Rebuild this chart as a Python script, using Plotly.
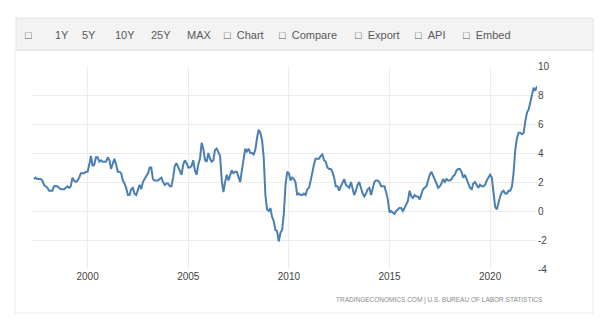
import plotly.graph_objects as go
import pandas as pd

# US inflation rate (CPI YoY, %) monthly, starting May 1997
start_month = "1997-05-01"
values_1997 = [2.2, 2.3, 2.2, 2.2, 2.2, 2.1, 1.8, 1.7]
values_1998 = [1.6, 1.4, 1.4, 1.4, 1.7, 1.7, 1.7, 1.6, 1.5, 1.5, 1.5, 1.6]
values_1999 = [1.7, 1.6, 1.7, 2.3, 2.1, 2.0, 2.1, 2.3, 2.6, 2.6, 2.6, 2.7]
values_2000 = [2.7, 3.2, 3.8, 3.1, 3.2, 3.7, 3.7, 3.4, 3.5, 3.4, 3.4, 3.4]
values_2001 = [3.7, 3.5, 2.9, 3.3, 3.6, 3.2, 2.7, 2.7, 2.6, 2.1, 1.9, 1.6]
values_2002 = [1.1, 1.1, 1.5, 1.6, 1.2, 1.1, 1.5, 1.8, 1.5, 2.0, 2.2, 2.4]
values_2003 = [2.6, 3.0, 3.0, 2.2, 2.1, 2.1, 2.1, 2.2, 2.3, 2.0, 1.8, 1.9]
values_2004 = [1.9, 1.7, 1.7, 2.3, 3.1, 3.3, 3.0, 2.7, 2.5, 3.2, 3.5, 3.3]
values_2005 = [3.0, 3.0, 3.1, 3.5, 2.8, 2.5, 3.2, 3.6, 4.7, 4.3, 3.5, 3.4]
values_2006 = [4.0, 3.6, 3.4, 3.5, 4.2, 4.3, 4.1, 3.8, 2.1, 1.3, 2.0, 2.5]
values_2007 = [2.1, 2.4, 2.8, 2.6, 2.7, 2.7, 2.4, 2.0, 2.8, 3.5, 4.3, 4.1]
values_2008 = [4.3, 4.0, 4.0, 3.9, 4.2, 5.0, 5.6, 5.4, 4.9, 3.7, 1.1, 0.1]
values_2009 = [0.0, 0.2, -0.4, -0.7, -1.3, -1.4, -2.1, -1.5, -1.3, -0.2, 1.8, 2.7]
values_2010 = [2.6, 2.1, 2.3, 2.2, 2.0, 1.1, 1.2, 1.1, 1.1, 1.2, 1.1, 1.5]
values_2011 = [1.6, 2.1, 2.7, 3.2, 3.6, 3.6, 3.6, 3.8, 3.9, 3.5, 3.4, 3.0]
values_2012 = [2.9, 2.9, 2.7, 2.3, 1.7, 1.7, 1.4, 1.7, 2.0, 2.2, 1.8, 1.7]
values_2013 = [1.6, 2.0, 1.5, 1.1, 1.4, 1.8, 2.0, 1.5, 1.2, 1.0, 1.2, 1.5]
values_2014 = [1.6, 1.1, 1.5, 2.0, 2.1, 2.1, 2.0, 1.7, 1.7, 1.7, 1.3, 0.8]
values_2015 = [-0.1, 0.0, -0.1, -0.2, 0.0, 0.1, 0.2, 0.2, 0.0, 0.2, 0.5, 0.7]
values_2016 = [1.4, 1.0, 0.9, 1.1, 1.0, 1.0, 0.8, 1.1, 1.5, 1.6, 1.7, 2.1]
values_2017 = [2.5, 2.7, 2.4, 2.2, 1.9, 1.6, 1.7, 1.9, 2.2, 2.0, 2.2, 2.1]
values_2018 = [2.1, 2.2, 2.4, 2.5, 2.8, 2.9, 2.9, 2.7, 2.3, 2.5, 2.2, 1.9]
values_2019 = [1.6, 1.5, 1.9, 2.0, 1.8, 1.6, 1.8, 1.7, 1.7, 1.8, 2.1, 2.3]
values_2020 = [2.5, 2.3, 1.5, 0.3, 0.1, 0.6, 1.0, 1.3, 1.4, 1.2, 1.2, 1.4]
values_2021 = [1.4, 1.7, 2.6, 4.2, 5.0, 5.4, 5.4, 5.3, 5.4, 6.2, 6.8, 7.0]
values_2022 = [7.5, 7.9, 8.5, 8.3, 8.6]

values = (values_1997 + values_1998 + values_1999 + values_2000 + values_2001
          + values_2002 + values_2003 + values_2004 + values_2005 + values_2006
          + values_2007 + values_2008 + values_2009 + values_2010 + values_2011
          + values_2012 + values_2013 + values_2014 + values_2015 + values_2016
          + values_2017 + values_2018 + values_2019 + values_2020 + values_2021
          + values_2022)
dates = pd.date_range(start_month, periods=len(values), freq="MS")

x_tick_years = [2000, 2005, 2010, 2015, 2020]
y_ticks = [-4, -2, 0, 2, 4, 6, 8, 10]
y_tick_labels = ["-4", "-2", "0", "2", "4", "6", "8", "10"]
NB = "\u00a0\u00a0"
toolbar_items = ["□", "1Y", "5Y", "10Y", "25Y", "MAX", "□" + NB + "Chart", "□" + NB + "Compare",
                 "□" + NB + "Export", "□" + NB + "API", "□" + NB + "Embed"]
toolbar_px = [23, 53, 80, 113, 149, 185, 222, 277, 353, 413, 461]
source_text = "TRADINGECONOMICS.COM | U.S. BUREAU OF LABOR STATISTICS"

W, H = 600, 331
L, R, T, B = 33, 63, 66, 62
pw, ph = W - L - R, H - T - B


def px_x(px):
    return (px - L) / pw


def px_y(py):
    return (H - B - py) / ph


fig = go.Figure()
fig.add_trace(go.Scatter(
    x=dates, y=values, mode="lines",
    line=dict(color="#4a7fb3", width=2),
    hoverinfo="skip", showlegend=False,
))

shapes = [
    dict(type="rect", xref="paper", yref="paper",
         x0=px_x(15), x1=px_x(593), y0=px_y(313), y1=px_y(50),
         line=dict(color="#ececec", width=1), fillcolor="rgba(0,0,0,0)", layer="below"),
    dict(type="rect", xref="paper", yref="paper",
         x0=px_x(16), x1=px_x(593), y0=px_y(50), y1=px_y(18),
         line=dict(color="#e2e2e2", width=1), fillcolor="#f3f3f3", layer="below"),
]

annotations = []
for txt, px in zip(toolbar_items, toolbar_px):
    annotations.append(dict(
        text=txt, xref="paper", yref="paper", x=px_x(px), y=px_y(35),
        xanchor="left", yanchor="middle", showarrow=False,
        font=dict(family="Liberation Sans, Arial", size=11, color="#5a5a5a"),
    ))
annotations.append(dict(
    text=source_text, xref="paper", yref="paper", x=px_x(545), y=px_y(300),
    xanchor="right", yanchor="middle", showarrow=False,
    font=dict(family="Liberation Sans, Arial", size=6.5, color="#8a8a8a"),
))

fig.update_layout(
    width=W, height=H, autosize=False,
    margin=dict(l=L, r=R, t=T, b=B),
    paper_bgcolor="white", plot_bgcolor="white",
    shapes=shapes, annotations=annotations,
    xaxis=dict(
        range=["1997-04-15", "2022-05-01"],
        tickvals=[f"{y}-01-01" for y in x_tick_years],
        ticktext=[str(y) for y in x_tick_years],
        showgrid=True, gridcolor="#ececec", gridwidth=1,
        zeroline=False, showline=False, ticks="",
        tickfont=dict(family="Liberation Sans, Arial", size=10, color="#444444"),
    ),
    yaxis=dict(
        range=[-4, 10], tickvals=y_ticks, ticktext=y_tick_labels, side="right",
        showgrid=True, gridcolor="#ececec", gridwidth=1,
        zeroline=False, showline=False, ticks="",
        tickfont=dict(family="Liberation Sans, Arial", size=10, color="#444444"),
    ),
)

fig.write_html("out.html")
